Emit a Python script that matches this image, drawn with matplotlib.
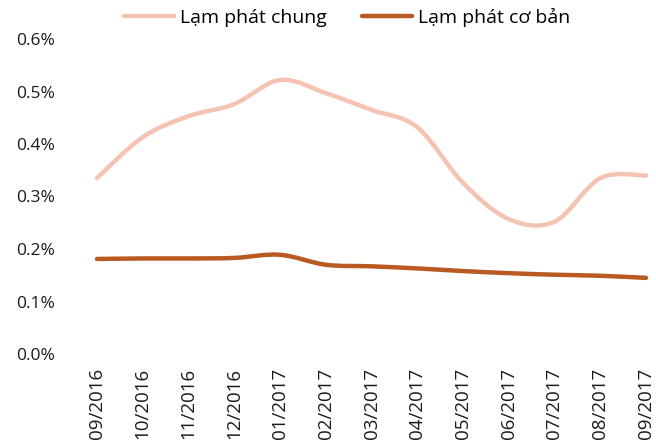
import matplotlib
matplotlib.use('Agg')
import numpy as np
import matplotlib.pyplot as plt
from matplotlib.path import Path
from matplotlib.patches import PathPatch
from matplotlib.lines import Line2D

months = ['09/2016', '10/2016', '11/2016', '12/2016', '01/2017', '02/2017', '03/2017',
          '04/2017', '05/2017', '06/2017', '07/2017', '08/2017', '09/2017']
lam_phat_chung = [0.335, 0.413, 0.453, 0.476, 0.522, 0.497, 0.465, 0.432, 0.326, 0.257, 0.252, 0.335, 0.340]
lam_phat_co_ban = [0.181, 0.182, 0.182, 0.183, 0.189, 0.170, 0.167, 0.163, 0.158, 0.154, 0.151, 0.149, 0.145]
series_names = ['Lạm phát chung', 'Lạm phát cơ bản']
colors = ['#F4C3B3', '#B95A22']

plt.rcParams['font.family'] = ['Open Sans', 'DejaVu Sans']


def smoothPath(x, y, tension=1.0 / 6):
    # catmull-rom style smoothing, like the "smoothed line" option of spreadsheets
    x = np.asarray(x, float)
    y = np.asarray(y, float)
    verts = [(x[0], y[0])]
    codes = [Path.MOVETO]
    n = len(x)
    for i in range(n - 1):
        x0, y0 = (x[i - 1], y[i - 1]) if i > 0 else (x[i], y[i])
        x3, y3 = (x[i + 2], y[i + 2]) if i + 2 < n else (x[i + 1], y[i + 1])
        c1 = (x[i] + (x[i + 1] - x0) * tension, y[i] + (y[i + 1] - y0) * tension)
        c2 = (x[i + 1] - (x3 - x[i]) * tension, y[i + 1] - (y3 - y[i]) * tension)
        verts += [c1, c2, (x[i + 1], y[i + 1])]
        codes += [Path.CURVE4] * 3
    return Path(verts, codes)


fig = plt.figure(figsize=(6.56, 4.46), dpi=100)
ax = fig.add_axes([97 / 656, 92 / 446, 549 / 656, 315 / 446])

xs = np.arange(len(months))
handles = []
for values, name, color in zip([lam_phat_chung, lam_phat_co_ban], series_names, colors):
    patch = PathPatch(smoothPath(xs, values), facecolor='none', edgecolor=color,
                      lw=3.2, capstyle='round', clip_on=False)
    ax.add_patch(patch)
    handles.append(Line2D([], [], color=color, lw=3.2, solid_capstyle='round', label=name))

ax.set_xlim(0, 12)
ax.set_ylim(0, 0.6)
ax.set_yticks(np.arange(0, 0.61, 0.1))
ax.set_yticklabels(['%.1f%%' % v for v in np.arange(0, 0.61, 0.1)])
ax.set_xticks(xs)
ax.set_xticklabels(months, rotation=90)
ax.tick_params(axis='both', length=0, labelsize=12.5, colors='#1a1a1a')
ax.tick_params(axis='x', labelsize=13.5, pad=10)
ax.tick_params(axis='y', pad=30)
for s in ax.spines.values():
    s.set_visible(False)

fig.legend(handles=handles, loc='center', bbox_to_anchor=(347 / 656, 1 - 17 / 446), ncol=2,
           frameon=False, fontsize=14, handlelength=2.6, handletextpad=0.3, columnspacing=1.8)

plt.savefig('out.png', dpi=100)
